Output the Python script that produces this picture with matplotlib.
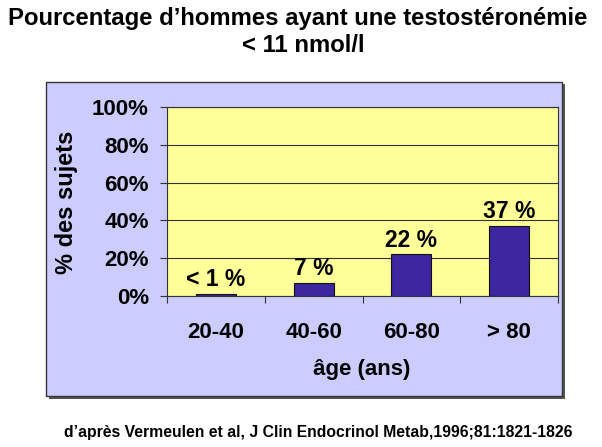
import matplotlib.pyplot as plt
import matplotlib.patches as mpatches

plt.rcParams['font.family'] = ['Liberation Sans', 'DejaVu Sans']
plt.rcParams['font.weight'] = 'bold'

categories = ['20-40', '40-60', '60-80', '> 80']
values = [1, 7, 22, 37]
bar_labels = ['< 1 %', '7 %', '22 %', '37 %']
yticks = [0, 20, 40, 60, 80, 100]
ytick_labels = ['0%', '20%', '40%', '60%', '80%', '100%']

W, H = 602, 447
fig = plt.figure(figsize=(W / 100, H / 100), dpi=100)
fig.patch.set_facecolor('white')

# lavender frame behind the chart, with a small shadow
shadow = mpatches.Rectangle((49 / W, 1 - 399 / H), 516 / W, 315 / H,
                            transform=fig.transFigure, facecolor='#555555',
                            edgecolor='none', zorder=0)
frame = mpatches.Rectangle((46 / W, 1 - 396 / H), 516 / W, 314 / H,
                           transform=fig.transFigure, facecolor='#CCCCFF',
                           edgecolor='#333333', linewidth=1, zorder=1)
fig.patches.extend([shadow, frame])

ax = fig.add_axes([167 / W, 1 - 296 / H, (558 - 167) / W, (296 - 107) / H])
ax.set_zorder(2)
ax.set_facecolor('#FFFF99')

x = range(len(categories))
bars = ax.bar(x, values, width=0.41, color='#3D27A0', edgecolor='#111111',
              linewidth=0.8, zorder=3)
for b, lab in zip(bars, bar_labels):
    ax.annotate(lab, (b.get_x() + b.get_width() / 2, b.get_height()),
                xytext=(0, 2), textcoords='offset points',
                ha='center', va='bottom', fontsize=16.5, fontweight='bold')

ax.set_xlim(-0.5, len(categories) - 0.5)
ax.set_ylim(0, 100)
ax.set_yticks(yticks)
ax.set_yticklabels(ytick_labels)
ax.set_xticks(list(x))
ax.set_xticklabels(categories)
ax.set_xticks([i - 0.5 for i in range(len(categories) + 1)], minor=True)
ax.tick_params(axis='x', which='major', length=0, pad=19, labelsize=16)
ax.tick_params(axis='x', which='minor', length=5, width=0.8, color='#333333')
ax.tick_params(axis='y', length=5, width=0.8, color='#333333', pad=8,
               labelsize=16)
ax.yaxis.grid(True, color='#333333', linewidth=0.8)
ax.set_axisbelow(True)
for s in ax.spines.values():
    s.set_color('#333333')
    s.set_linewidth(0.8)

fig.text(67 / W, 1 - 202 / H, '% des sujets', rotation=90, ha='center',
         va='center', fontsize=17, fontweight='bold')
fig.text(362 / W, 1 - 370 / H, 'âge (ans)', ha='center', va='center',
         fontsize=16, fontweight='bold')

fig.text(298 / W, 1 - 18 / H, 'Pourcentage d\u2019hommes ayant une testostéronémie',
         ha='center', va='center', fontsize=17.2, fontweight='bold')
fig.text(303 / W, 1 - 46 / H, '< 11 nmol/l', ha='center', va='center',
         fontsize=17.2, fontweight='bold')
fig.text(573 / W, 1 - 433 / H,
         'd\u2019après Vermeulen et al, J Clin Endocrinol Metab,1996;81:1821-1826',
         ha='right', va='center', fontsize=11.3, fontweight='bold')

fig.savefig('out.png', dpi=100)
